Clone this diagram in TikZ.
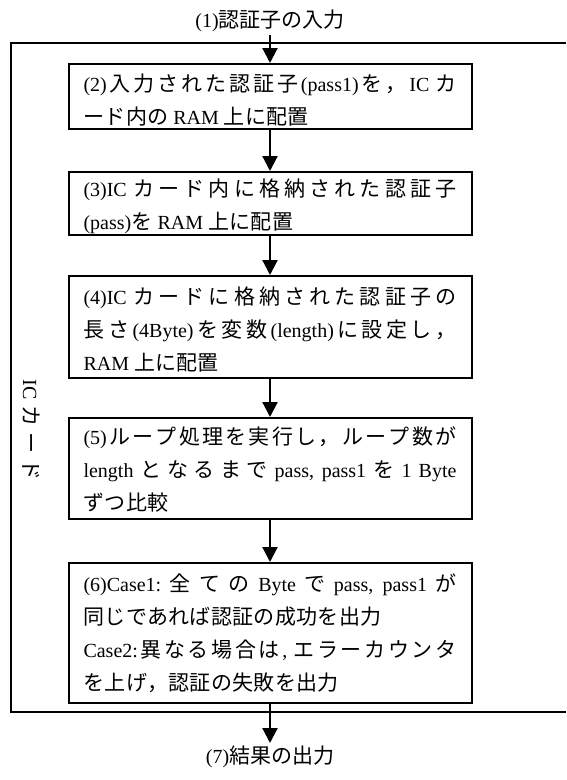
\documentclass[tikz,border=0pt]{standalone}
\usepackage{fontspec}
\setmainfont{Liberation Serif}
\newfontfamily\latfont{Liberation Serif}
\newfontfamily\jpfont[Scale=1.05]{Noto Sans CJK JP}
\usetikzlibrary{arrows.meta}
\newskip\jpglue \jpglue=0pt
\newcommand{\jpjust}{\global\jpglue=0.3pt plus 6pt\relax}
\newcommand{\jpnat}{\global\jpglue=0pt\relax}
\XeTeXinterchartokenstate=1
\newXeTeXintercharclass\JPclass
\count255="3000
\loop\ifnum\count255<"3100 \XeTeXcharclass\count255=\JPclass \advance\count255 by 1 \repeat
\count255="4E00
\loop\ifnum\count255<"A000 \XeTeXcharclass\count255=\JPclass \advance\count255 by 1 \repeat
\count255="FF00
\loop\ifnum\count255<"FFF0 \XeTeXcharclass\count255=\JPclass \advance\count255 by 1 \repeat
\XeTeXinterchartoks 0 \JPclass = {\jpfont\hskip\jpglue}
\XeTeXinterchartoks 4095 \JPclass = {\jpfont}
\XeTeXinterchartoks \JPclass 0 = {\latfont\hskip\jpglue}
\XeTeXinterchartoks \JPclass 4095 = {\latfont}
\XeTeXinterchartoks \JPclass \JPclass = {\hskip\jpglue}
\newcommand{\tg}[1]{\rule{0pt}{#1pt}}
\newcommand{\boxfont}{\fontsize{20}{33}\selectfont\jpjust}
\newcommand{\lblfont}{\fontsize{20}{24}\selectfont\jpnat}
\tikzset{
  stepbox/.style={draw, line width=2pt, minimum width=403pt, text width=373pt,
    align=justify, inner sep=0pt, font=\boxfont},
  lbl/.style={inner sep=3pt, font=\lblfont},
  arr/.style={line width=2.2pt, -{Triangle[width=15pt,length=15pt]}},
  frame/.style={line width=2pt}
}
\begin{document}
\begin{tikzpicture}[x=1pt,y=-1pt]
\useasboundingbox (0,0) rectangle (566,780);
\draw[frame] (566,43) -- (11,43) -- (11,712) -- (566,712);
\node[lbl] (in1) at (270,21) {(1)認証子の入力};
\node[stepbox, minimum height=65pt] (b2) at (270,96.5)
  {\tg{24}(2)入力された認証子(pass1)を，IC カ\linebreak ード内の RAM 上に配置};
\node[stepbox, minimum height=63pt] (b3) at (270,203.5)
  {\tg{24}(3)IC カード内に格納された認証子\linebreak (pass)を RAM 上に配置};
\node[stepbox, minimum height=102pt] (b4) at (270,327)
  {\tg{23.6}(4)IC カードに格納された認証子の\linebreak 長さ(4Byte)を変数(length)に設定し，\linebreak RAM 上に配置};
\node[stepbox, minimum height=101pt] (b5) at (270,468.5)
  {\tg{20.6}(5)ループ処理を実行し，ループ数が\linebreak length となるまで pass, pass1 を 1 Byte\linebreak ずつ比較};
\node[stepbox, minimum height=140pt] (b6) at (270,633)
  {(6)Case1:全ての Byte で pass, pass1 が\linebreak 同じであれば認証の成功を出力\newline Case2:異なる場合は, エラーカウンタ\linebreak を上げ，認証の失敗を出力};
\node[lbl, anchor=north] (out7) at (270,743) {(7)結果の出力};
\node[lbl, rotate=-90] (ic) at (31,430) {IC\hspace{6pt}カ\hspace{6pt}ー\hspace{6pt}ド};
\draw[arr] (in1.south) -- (b2.north);
\draw[arr] (b2.south) -- (b3.north);
\draw[arr] (b3.south) -- (b4.north);
\draw[arr] (b4.south) -- (b5.north);
\draw[arr] (b5.south) -- (b6.north);
\draw[arr] (b6.south) -- (out7.north);
\end{tikzpicture}
\end{document}
